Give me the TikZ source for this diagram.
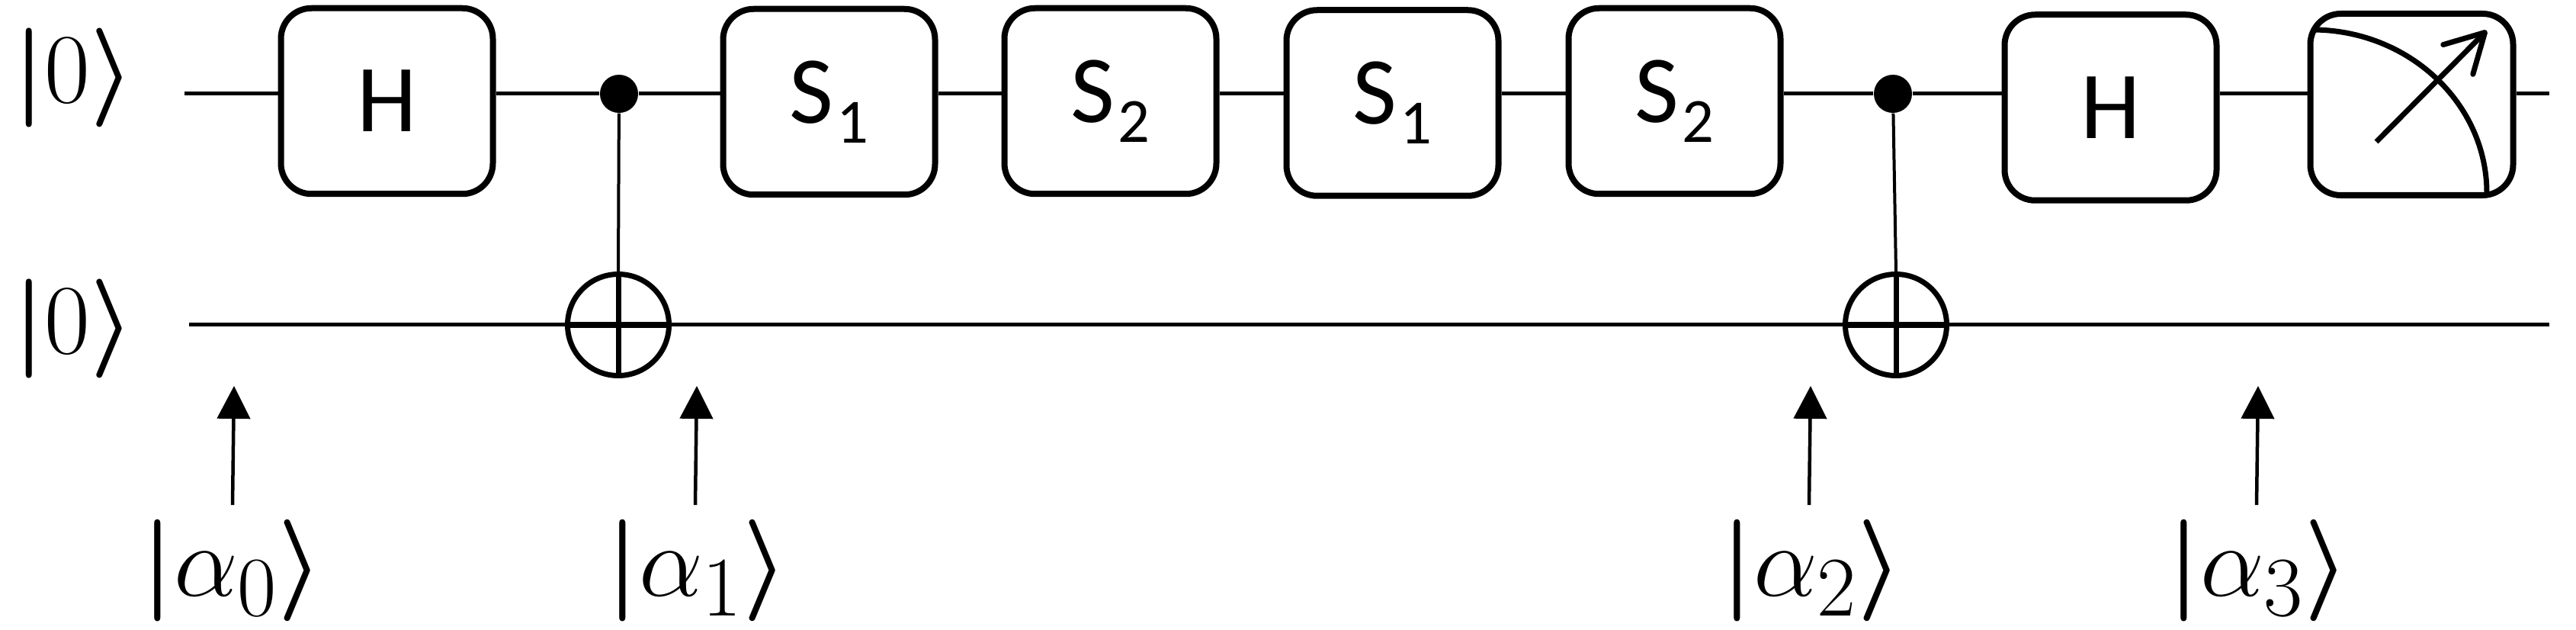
\documentclass[tikz,border=0pt]{standalone}
\usepackage{amsmath}
\usepackage{fontspec}
\usetikzlibrary{arrows.meta,positioning}
\newfontfamily\gatefont{Carlito}
\newcommand{\gatesub}[2]{#1\hspace{0.05cm}\raisebox{-0.26cm}{\fontsize{23.5}{28}\selectfont #2}}

\tikzset{
  gate/.style={draw,fill=white,line width=0.08cm,rounded corners=0.4cm,inner sep=0pt,
    minimum width=2.78cm,minimum height=2.435cm,font=\gatefont\fontsize{35.8}{43}\selectfont},
  wire/.style={line width=0.05cm},
  ctrl/.style={circle,fill=black,inner sep=0pt,minimum size=0.5cm},
  target/.style={circle,draw,line width=0.07cm,inner sep=0pt,minimum size=1.33cm},
  ketzero/.style={inner sep=0pt,scale=1.487,transform shape,font=\fontsize{24.88}{30}\selectfont},
  ketalpha/.style={inner ysep=0.118cm,inner xsep=0pt,scale=1.527,transform shape,font=\fontsize{24.88}{30}\selectfont},
  probe/.style={line width=0.045cm,-{Triangle[length=0.43cm,width=0.43cm]}}
}

\begin{document}
\begin{tikzpicture}
\useasboundingbox (0,0) rectangle (33.79,-8.26);

\coordinate (in1) at (2.42,-1.23);
\coordinate (in2) at (2.48,-4.26);
\coordinate (out1) at (33.44,-1.23);
\coordinate (out2) at (33.44,-4.26);

\node[ketzero] (K1) at (0.97,-1.02) {$\boldsymbol{|}0\boldsymbol{\rangle}$};
\node[ketzero] (K2) at (0.97,-4.31) {$\boldsymbol{|}0\boldsymbol{\rangle}$};

\node[gate] (H1) at (5.075,-1.325) {H};
\node[gate] (S1) [right=2.94cm of H1, yshift=-0.01cm] {\gatesub{S}{1}};
\node[gate] (S2) [right=0.83cm of S1, yshift=0.01cm] {\gatesub{S}{2}};
\node[gate] (S3) [right=0.84cm of S2, yshift=-0.025cm] {\gatesub{S}{1}};
\node[gate] (S4) [right=0.84cm of S3, yshift=0.025cm] {\gatesub{S}{2}};
\node[gate] (H2) [right=2.86cm of S4, yshift=-0.085cm] {H};
\node[gate, minimum width=2.66cm, minimum height=2.38cm] (M) [right=1.15cm of H2, yshift=0.04cm] {};

\node[ctrl] (C1) at (8.12,-1.23) {};
\node[ctrl] (C2) at (24.83,-1.23) {};
\node[target] (T1) at (8.11,-4.26) {};
\node[target] (T2) at (24.87,-4.26) {};

\node[ketalpha] (A0) at (3.05,-7.48) {$\boldsymbol{|}\alpha_{0}\boldsymbol{\rangle}$};
\node[ketalpha] (A1) at (9.15,-7.48) {$\boldsymbol{|}\alpha_{1}\boldsymbol{\rangle}$};
\node[ketalpha] (A2) at (23.77,-7.48) {$\boldsymbol{|}\alpha_{2}\boldsymbol{\rangle}$};
\node[ketalpha] (A3) at (29.63,-7.48) {$\boldsymbol{|}\alpha_{3}\boldsymbol{\rangle}$};

\coordinate (P0) at (3.07,-5.06);
\coordinate (P1) at (9.14,-5.06);
\coordinate (P2) at (23.75,-5.06);
\coordinate (P3) at (29.62,-5.06);

% top wire
\path[wire] (in1) edge (H1.west |- in1)
      (H1.east |- in1) edge (C1)
      (C1) edge (S1.west |- in1)
      (S1.east |- in1) edge (S2.west |- in1)
      (S2.east |- in1) edge (S3.west |- in1)
      (S3.east |- in1) edge (S4.west |- in1)
      (S4.east |- in1) edge (C2)
      (C2) edge (H2.west |- in1)
      (H2.east |- in1) edge (M.west |- in1)
      (M.east |- in1) edge (out1);

% bottom wire
\path[wire] (in2) edge (T1)
      (T1) edge (T2)
      (T2) edge (out2);

\path[line width=0.04cm] (C1) edge (T1.north)
      (C2) edge (T2.north);

\path[line width=0.07cm] (T1.north) edge (T1.south)
      (T1.west) edge (T1.east)
      (T2.north) edge (T2.south)
      (T2.west) edge (T2.east);

\path ([xshift=-0.02cm]A0.north -| P0) edge[probe] (P0)
      ([xshift=-0.02cm]A1.north -| P1) edge[probe] (P1)
      ([xshift=-0.02cm]A2.north -| P2) edge[probe] (P2)
      ([xshift=-0.02cm]A3.north -| P3) edge[probe] (P3);

% meter
\draw[line width=0.07cm] (30.33,-0.39) .. controls (31.59,-0.39) and (32.62,-1.35) .. (32.62,-2.53);
\draw[line width=0.07cm,-{Straight Barb[round,length=0.5cm,width=0.55cm]}] (31.17,-1.86) -- (32.62,-0.40);

\end{tikzpicture}
\end{document}
